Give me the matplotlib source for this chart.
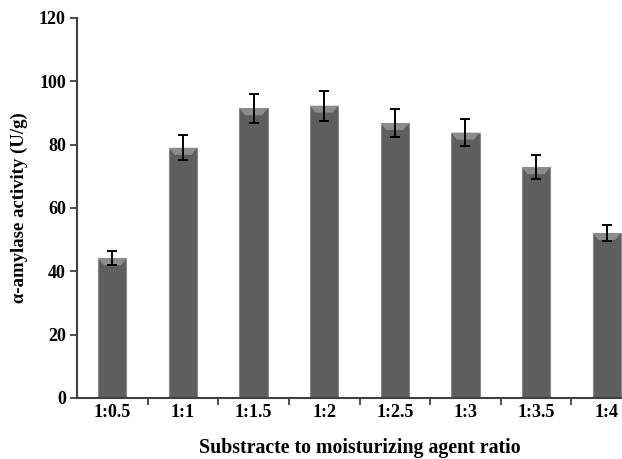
import matplotlib.pyplot as plt
import numpy as np

ratios = ['1:0.5', '1:1', '1:1.5', '1:2', '1:2.5', '1:3', '1:3.5', '1:4']
activity = [44.1, 79.0, 91.5, 92.3, 86.8, 83.8, 72.9, 52.1]
err = [2.2, 3.9, 4.6, 4.7, 4.5, 4.2, 3.7, 2.6]

plt.rcParams['font.family'] = ['Liberation Serif', 'DejaVu Serif']
plt.rcParams['font.weight'] = 'bold'

fig = plt.figure(figsize=(6.22, 4.59), dpi=100)
# plot area runs past the right edge of the picture, as in the original
ax = fig.add_axes([77/622, 1-398/459, 565/622, 380/459])

x = np.arange(len(ratios))
bars = ax.bar(x, activity, width=0.4, color='#5e5e5e', edgecolor='#8a8a8a',
              linewidth=0.8, zorder=2)
ax.errorbar(x, activity, yerr=err, fmt='none', ecolor='black', elinewidth=1.4,
            capsize=3.5, capthick=1.4, zorder=3)

# light bevel on the top of each bar
for b in bars:
    bx, bw, bh = b.get_x(), b.get_width(), b.get_height()
    ax.fill([bx, bx + bw, bx + bw*0.8, bx + bw*0.2], [bh, bh, bh-2.2, bh-2.2],
            color='#8c8c8c', lw=0, zorder=2.5)

ax.set_xlim(-0.5, len(ratios)-0.5)
ax.set_ylim(0, 120)
ax.set_yticks(np.arange(0, 121, 20))
ax.set_xticks(x)
ax.set_xticklabels(ratios)
ax.set_xticks(np.arange(0.5, len(ratios)-0.5, 1), minor=True)
ax.tick_params(axis='x', which='major', length=0, labelsize=13, pad=4)
ax.tick_params(axis='x', which='minor', length=5, width=1.3, color='#404040', direction='out')
ax.tick_params(axis='y', length=5, width=1.3, color='#404040', labelsize=13, pad=3)

for s in ['top', 'right']:
    ax.spines[s].set_visible(False)
for s in ['left', 'bottom']:
    ax.spines[s].set_color('#404040')
    ax.spines[s].set_linewidth(1.5)

ax.set_ylabel('α-amylase activity (U/g)', fontsize=13.5, fontweight='bold')
ax.yaxis.set_label_coords(-0.087, 0.5)
ax.set_xlabel('Substracte to moisturizing agent ratio', fontsize=14.3, fontweight='bold')
ax.xaxis.set_label_coords(0.5, -0.105)

plt.savefig('out.png', dpi=100)
